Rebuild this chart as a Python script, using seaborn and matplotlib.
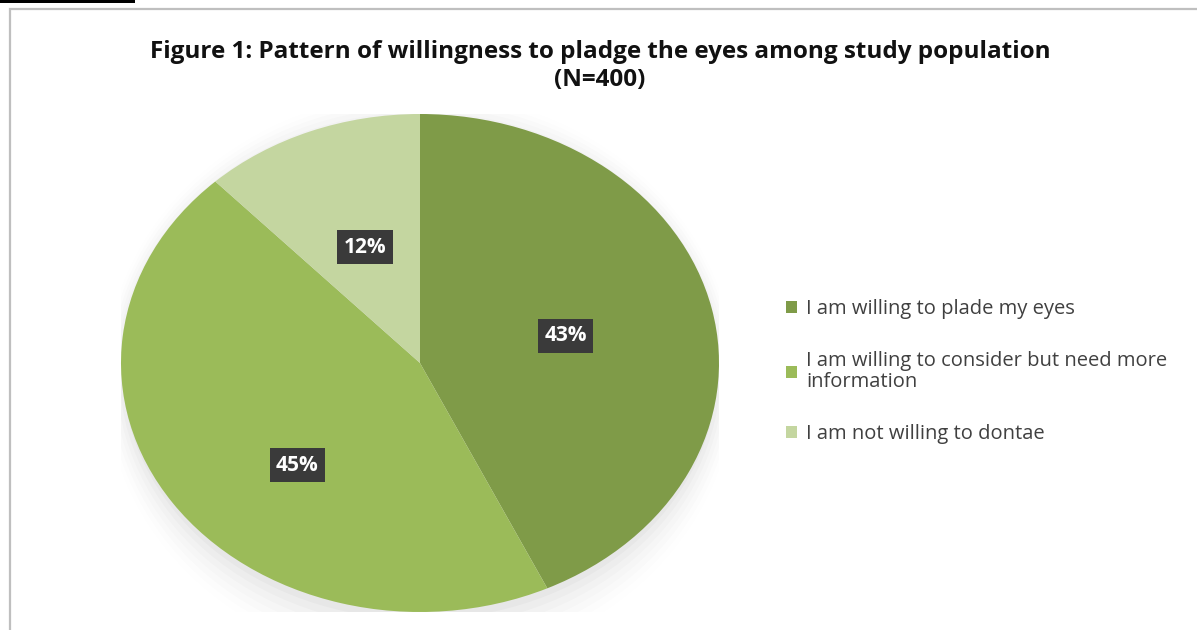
import matplotlib
matplotlib.use("Agg")
import matplotlib.pyplot as plt
import seaborn as sns
import numpy as np
import textwrap
from matplotlib.patches import Rectangle, Ellipse

sns.set_theme(style="white")
plt.rcParams['font.family'] = ['Open Sans', 'DejaVu Sans']

# ---- data ----
categories = ["I am willing to plade my eyes",
              "I am willing to consider but need more information",
              "I am not willing to dontae"]
values = [43, 45, 12]
colors = ["#7f9b48", "#9bbb59", "#c4d6a0"]
title = "Figure 1: Pattern of willingness to pladge the eyes among study population\n(N=400)"

W, H = 1197, 630
fig = plt.figure(figsize=(W / 100, H / 100), dpi=100)
fig.patch.set_facecolor("white")

# chart frame (gray border) and the top black bar
fig.add_artist(Rectangle((10 / W, -0.05), 1.2, (H - 9) / H + 0.05, transform=fig.transFigure,
                         fill=False, ec="#bfbfbf", lw=1.6))
fig.add_artist(Rectangle((0, (H - 3) / H), 135 / W, 3 / H, transform=fig.transFigure,
                         fc="black", ec="none"))

# title
fig.text(600 / W, 1 - 66 / H, title, ha="center", va="center", fontsize=17.5,
         fontweight="bold", color="#111111", linespacing=1.25)

# pie axes (elliptical, stretched like the reference)
cx0, cx1 = 121, 719
cy0, cy1 = 114, 612
ax = fig.add_axes([cx0 / W, (H - cy1) / H, (cx1 - cx0) / W, (cy1 - cy0) / H])
ax.axis("off")

# soft shadow
for i, a in enumerate(np.linspace(0.05, 0.008, 7)):
    ax.add_patch(Ellipse((0.0, -0.03 - 0.006 * i), 1.99 + 0.02 * i, 2 + 0.05 * i, fc="#000000",
                         alpha=a * 0.45, ec="none", zorder=0))

wedges, _ = ax.pie(values, colors=colors, startangle=90, counterclock=False,
                   wedgeprops=dict(linewidth=0, zorder=2))
ax.set_aspect("auto")
ax.set_xlim(-1, 1)
ax.set_ylim(-1, 1)

label_dist = [0.5, 0.58, 0.5]
for w, v, d in zip(wedges, values, label_dist):
    ang = np.deg2rad((w.theta1 + w.theta2) / 2)
    if v == 45:
        ang = np.deg2rad(-135)
    ax.text(d * np.cos(ang), d * np.sin(ang), f"{v}%", ha="center", va="center",
            color="white", fontsize=15, fontweight="bold", zorder=5,
            bbox=dict(boxstyle="square,pad=0.3", fc="#3a3a3a", ec="none"))

# legend
handles = [Rectangle((0, 0), 1, 1, fc=c, ec="none") for c in colors]
labels = [textwrap.fill(c, 38) for c in categories]
leg = fig.legend(handles, labels, loc="upper left", bbox_to_anchor=(768 / W, 1 - 281 / H),
                 frameon=False, fontsize=14.5, handlelength=0.55, handleheight=0.55,
                 handletextpad=0.45, labelspacing=1.6, labelcolor="#404040")
for t in leg.get_texts():
    t.set_linespacing(1.05)

fig.savefig("out.png", dpi=100, facecolor="white")
